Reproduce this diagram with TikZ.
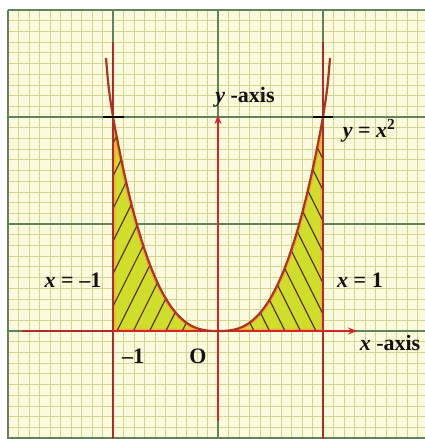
\documentclass[tikz,border=0pt]{standalone}
\usepackage{fontspec}
\setmainfont{Liberation Serif}
\usetikzlibrary{arrows.meta}
\definecolor{paper}{RGB}{252,250,220}
\definecolor{minorc}{RGB}{210,212,146}
\definecolor{majorc}{RGB}{95,132,92}
\definecolor{fillc}{RGB}{206,222,42}
\definecolor{edgec}{RGB}{242,178,52}
\definecolor{hatchc}{RGB}{92,52,22}
\definecolor{curvec}{RGB}{172,52,32}
\definecolor{linec}{RGB}{176,44,42}
\definecolor{axisc}{RGB}{212,38,38}
\definecolor{textc}{RGB}{20,18,16}
\begin{document}
\begin{tikzpicture}[x=1pt,y=-1pt,
  minorline/.style={minorc,line width=0.8pt},
  majorline/.style={majorc,line width=1.4pt},
  hatchline/.style={hatchc,line width=1.2pt},
  curveline/.style={curvec,line width=2.2pt},
  boundline/.style={linec,line width=2pt},
  axisline/.style={axisc,line width=1.8pt,-{Stealth[length=9pt,width=7pt]}},
  tickline/.style={black,line width=2pt},
  lbl/.style={text=textc,font=\fontsize{22}{24}\selectfont\bfseries,inner sep=0pt}]
\useasboundingbox (0,0) rectangle (425,439);
\fill[white] (0,0) rectangle (425,439);
\fill[paper] (8,10) rectangle (425,439);
% grid
\foreach \i in {0,...,39} {\draw[minorline] ({8+10.5*\i},10) -- ({8+10.5*\i},439);}
\foreach \j in {0,...,40} {\draw[minorline] (8,{10+10.7*\j}) -- (425,{10+10.7*\j});}
\foreach \i in {0,...,3} {\draw[majorline] ({8+105*\i},10) -- ({8+105*\i},439);}
\foreach \j in {0,...,4} {\draw[majorline] (8,{10+107*\j}) -- (425,{10+107*\j});}
% region
\def\region{(113,331) -- (113,117) -- plot[domain=-1:1,samples=80] ({218+105*\x},{331-214*abs(\x)^2.7}) -- (323,331) -- cycle}
\fill[fillc] \region;
\begin{scope}
  \clip \region;
  \draw[edgec,line width=5pt,line join=round] \region;
  \begin{scope}
    \clip (100,0) rectangle (218,331);
    \foreach \k in {-13,...,5} {\draw[hatchline] ({117+16.3*\k},331) -- ++(150,-300);}
  \end{scope}
  \begin{scope}
    \clip (218,0) rectangle (340,331);
    \foreach \k in {-13,...,5} {\draw[hatchline] ({316-15.5*\k},331) -- ++(-150,-300);}
  \end{scope}
\end{scope}
% vertical lines x = -1 and x = 1
\coordinate (lt) at (113,42); \coordinate (lb) at (113,439);
\coordinate (rt) at (323,42); \coordinate (rb) at (323,439);
\draw[boundline] (lt) -- (lb);
\draw[boundline] (rt) -- (rb);
% axes
\coordinate (xs) at (22,331); \coordinate (xe) at (357,331);
\coordinate (ys) at (218,421); \coordinate (ye) at (218,115);
\draw[axisline] (xs) -- (xe);
\draw[linec,line width=1.8pt] (xs) -- (lb |- xs);
\draw[axisline] (ys) -- (ye);
% curve
\draw[curveline] (106,58) .. controls (108.5,88) .. (113,117)
  -- plot[domain=-1:1,samples=80] ({218+105*\x},{331-214*abs(\x)^2.7})
  .. controls (327.5,88) .. (330,58);
% ticks
\draw[tickline] (103,117) -- (124,117);
\draw[tickline] (313,117) -- (333,117);
% labels
\node[lbl] (yaxis) at (245,97) {\itshape y\upshape\ -axis};
\node[lbl] (yeq) at (369,131) {\itshape y\upshape\ = \itshape x\upshape\textsuperscript{2}};
\node[lbl] (xm1) at (73,280) {\itshape x\upshape\ = –1};
\node[lbl] (xp1) at (360,280) {\itshape x\upshape\ = 1};
\node[lbl] (m1) at (133,356) {–1};
\node[lbl] (org) at (198,356) {O};
\node[lbl] (xaxis) at (390,343) {\itshape x\upshape\ -axis};
\end{tikzpicture}
\end{document}
